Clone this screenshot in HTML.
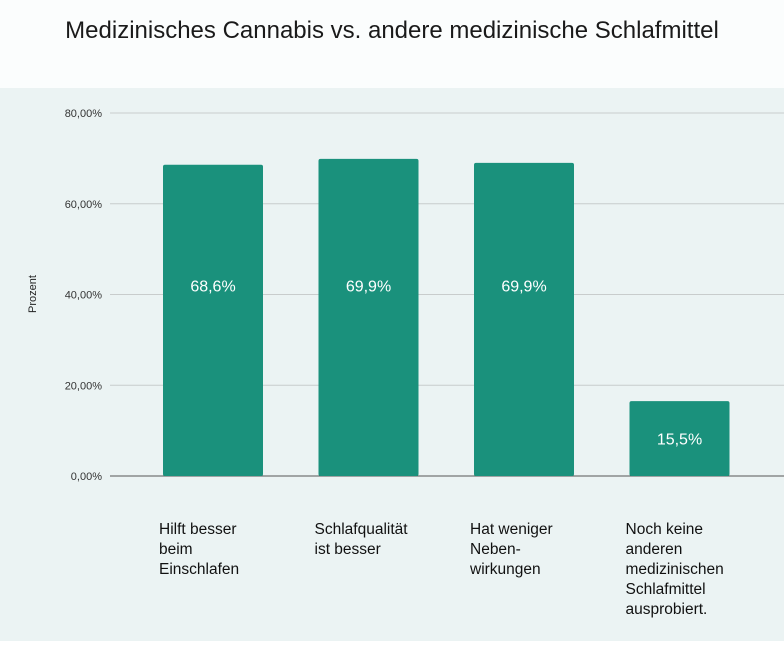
<!DOCTYPE html>
<html><head><meta charset="utf-8"><style>
body{margin:0;width:784px;height:641px;background:#fff;font-family:"Liberation Sans",sans-serif;overflow:hidden}
</style></head><body>
<svg width="784" height="641">
<rect x="0" y="0" width="784" height="641" fill="#fbfdfd"/>
<rect x="0" y="88" width="784" height="553" fill="#ebf3f3"/>
<text x="392" y="38" text-anchor="middle" font-size="24" fill="#1a1a1a">Medizinisches Cannabis vs. andere medizinische Schlafmittel</text>
<text transform="translate(36,294) rotate(-90)" text-anchor="middle" font-size="11" fill="#222">Prozent</text>
<g id="grid"></g><g id="bars"></g>
</svg>
<script>
const categories=[["Hilft besser","beim","Einschlafen"],["Schlafqualität","ist besser"],["Hat weniger","Neben-","wirkungen"],["Noch keine","anderen","medizinischen","Schlafmittel","ausprobiert."]];
const values=[68.6,69.9,69.0,16.5];
const valueLabels=["68,6%","69,9%","69,9%","15,5%"];
const ticks=[0,20,40,60,80];
const tickLabels=["0,00%","20,00%","40,00%","60,00%","80,00%"];
const NS="http://www.w3.org/2000/svg";
const y0=476,y80=113;
const y=v=>y0-(v/80)*(y0-y80);
const bx=i=>163+i*155.5, bw=100;
function mk(t,a,p){const e=document.createElementNS(NS,t);for(const k in a)e.setAttribute(k,a[k]);p.appendChild(e);return e;}
const g=document.getElementById('grid'),b=document.getElementById('bars');
ticks.forEach((t,i)=>{
 const l=mk('line',{x1:110,x2:784,y1:y(t),y2:y(t),stroke:t===0?'#555':'#c8cccc','stroke-width':1},g);
 
 const tx=mk('text',{x:102,y:y(t)+4,'text-anchor':'end','font-size':11,fill:'#333'},g);
 tx.textContent=tickLabels[i];
 
});
values.forEach((v,i)=>{
 const r=mk('rect',{x:bx(i),y:y(v),width:bw,height:y0-y(v),fill:'#1a917c',rx:2},b);
 
 const ly=v>40?y(40)-3:(y(v)+y0)/2+6;
 const t=mk('text',{x:bx(i)+bw/2,y:ly,'text-anchor':'middle','font-size':16,fill:'#fff'},b);
 t.textContent=valueLabels[i];
 
 categories[i].forEach((line,j)=>{
  const c=mk('text',{x:bx(i)-4,y:534+j*20,'font-size':15.5,fill:'#111'},b);
  c.textContent=line;
  
 });
});
</script>
</body></html>
